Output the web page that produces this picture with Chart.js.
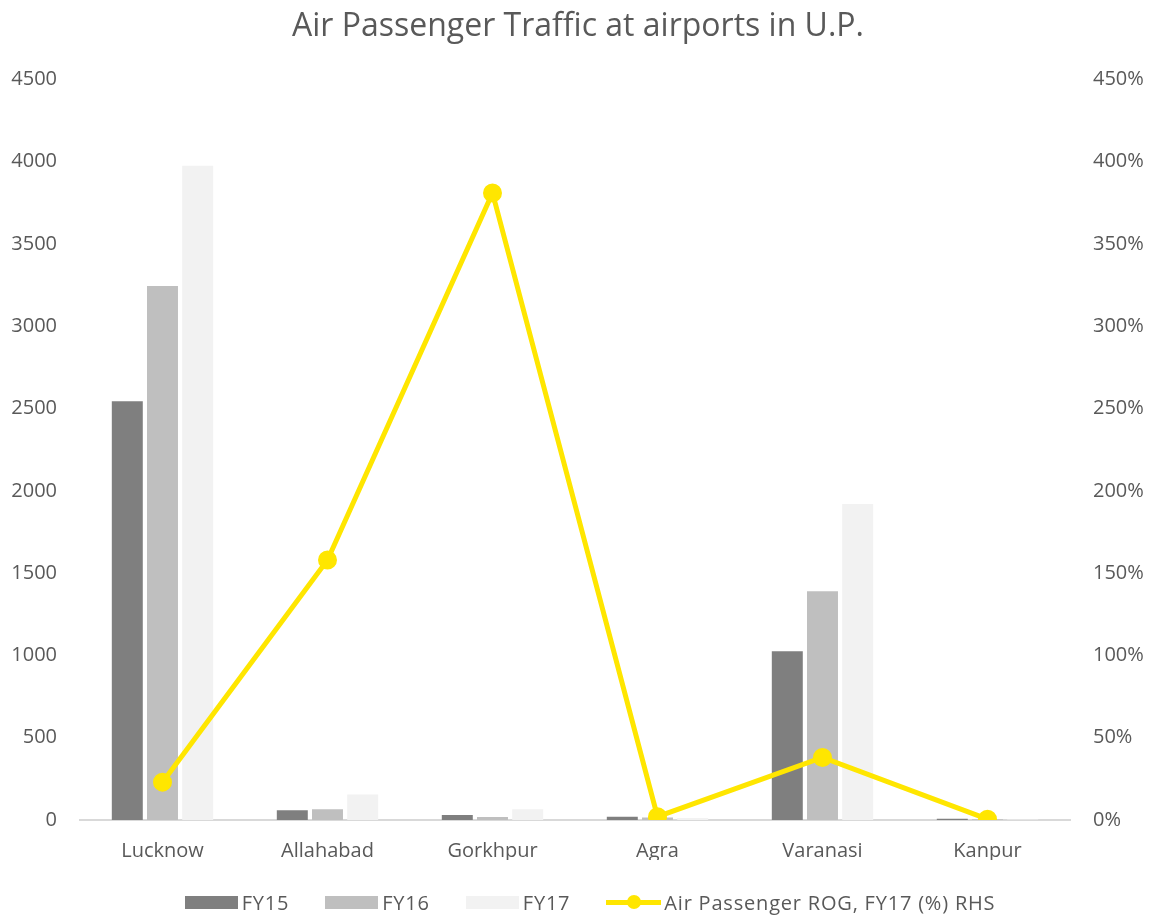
<!DOCTYPE html>
<html>
<head>
<meta charset="utf-8">
<script src="https://cdn.jsdelivr.net/npm/chart.js@4.4.0/dist/chart.umd.min.js"></script>
<style>
  html, body { margin: 0; padding: 0; background: #fff; }
  #wrap { position: relative; width: 1156px; height: 917px; }
  #legend {
    position: absolute; left: 0; right: 0; top: 889px;
    display: flex; justify-content: center; align-items: center;
    font-family: "Open Sans", sans-serif; font-size: 20px; letter-spacing: 0.8px; color: #595959;
    padding-left: 24px;
  }
  .item { display: flex; align-items: center; margin: 0 18px; }
  .box { width: 53px; height: 13px; margin-right: 4px; }
  .ln { position: relative; width: 55px; height: 5px; background: #ffe600; margin-right: 3px; }
  .ln::after { content: ''; position: absolute; left: 21px; top: -5px; width: 14px; height: 14px; border-radius: 50%; background: #ffe600; }
</style>
</head>
<body>
<div id="wrap">
  <canvas id="chart" width="1156" height="917"></canvas>
  <div id="legend">
    <div class="item"><div class="box" style="background:#7f7f7f"></div>FY15</div>
    <div class="item"><div class="box" style="background:#bfbfbf"></div>FY16</div>
    <div class="item"><div class="box" style="background:#f2f2f2"></div>FY17</div>
    <div class="item"><div class="ln"></div>Air Passenger ROG, FY17 (%) RHS</div>
  </div>
</div>
<script>
// ===== DATA =====
const airports = ['Lucknow', 'Allahabad', 'Gorkhpur', 'Agra', 'Varanasi', 'Kanpur'];
const fy15 = [2545, 60, 30, 20, 1025, 8];
const fy16 = [3245, 65, 18, 15, 1390, 5];
const fy17 = [3975, 155, 65, 12, 1920, 3];
const rog17 = [0.23, 1.58, 3.81, 0.02, 0.38, 0.005];
const leftTicks = [0, 4500, 500];
const rightTicks = [0, 4.5, 0.5];

const txt = '#595959';
const font = { family: '"Open Sans", sans-serif', size: 20 };

// ===== CHART =====
const ctx = document.getElementById('chart');
new Chart(ctx, {
  type: 'bar',
  data: {
    labels: airports,
    datasets: [
      { label: 'FY15', data: fy15, backgroundColor: '#7f7f7f', yAxisID: 'y', order: 1 },
      { label: 'FY16', data: fy16, backgroundColor: '#bfbfbf', yAxisID: 'y', order: 1 },
      { label: 'FY17', data: fy17, backgroundColor: '#f2f2f2', yAxisID: 'y', order: 1 },
      {
        type: 'line', label: 'Air Passenger ROG, FY17 (%) RHS', data: rog17, yAxisID: 'y1', order: 0,
        borderColor: '#ffe600', backgroundColor: '#ffe600', borderWidth: 5,
        pointRadius: 7, pointHoverRadius: 7, tension: 0
      }
    ]
  },
  options: {
    responsive: false,
    animation: false,
    categoryPercentage: 0.64,
    barPercentage: 0.88,
    layout: { padding: { top: 0, bottom: 57, left: 0, right: 0 } },
    plugins: {
      legend: { display: false },
      tooltip: { enabled: false },
      title: {
        display: true,
        text: 'Air Passenger Traffic at airports in U.P.',
        color: txt,
        font: { family: '"Open Sans", sans-serif', size: 32, weight: 'normal' },
        padding: { top: 8, bottom: 33 }
      }
    },
    scales: {
      x: {
        grid: { display: false, drawTicks: false },
        border: { display: true, color: '#d9d9d9', width: 2 },
        ticks: { color: txt, font: font, padding: 19 },
        afterFit: (s) => { s.height = 40; }
      },
      y: {
        position: 'left',
        min: leftTicks[0], max: leftTicks[1],
        grid: { display: false, drawTicks: false },
        border: { display: false },
        ticks: { stepSize: leftTicks[2], color: txt, font: font, padding: 23, callback: (v) => String(v) },
        afterFit: (s) => { s.width = 80; }
      },
      y1: {
        position: 'right',
        min: rightTicks[0], max: rightTicks[1],
        grid: { display: false, drawTicks: false },
        border: { display: false },
        ticks: {
          stepSize: rightTicks[2], color: txt, font: font, padding: 23,
          callback: (v) => Math.round(v * 100) + '%'
        },
        afterFit: (s) => { s.width = 86; }
      }
    }
  }
});
</script>
</body>
</html>
